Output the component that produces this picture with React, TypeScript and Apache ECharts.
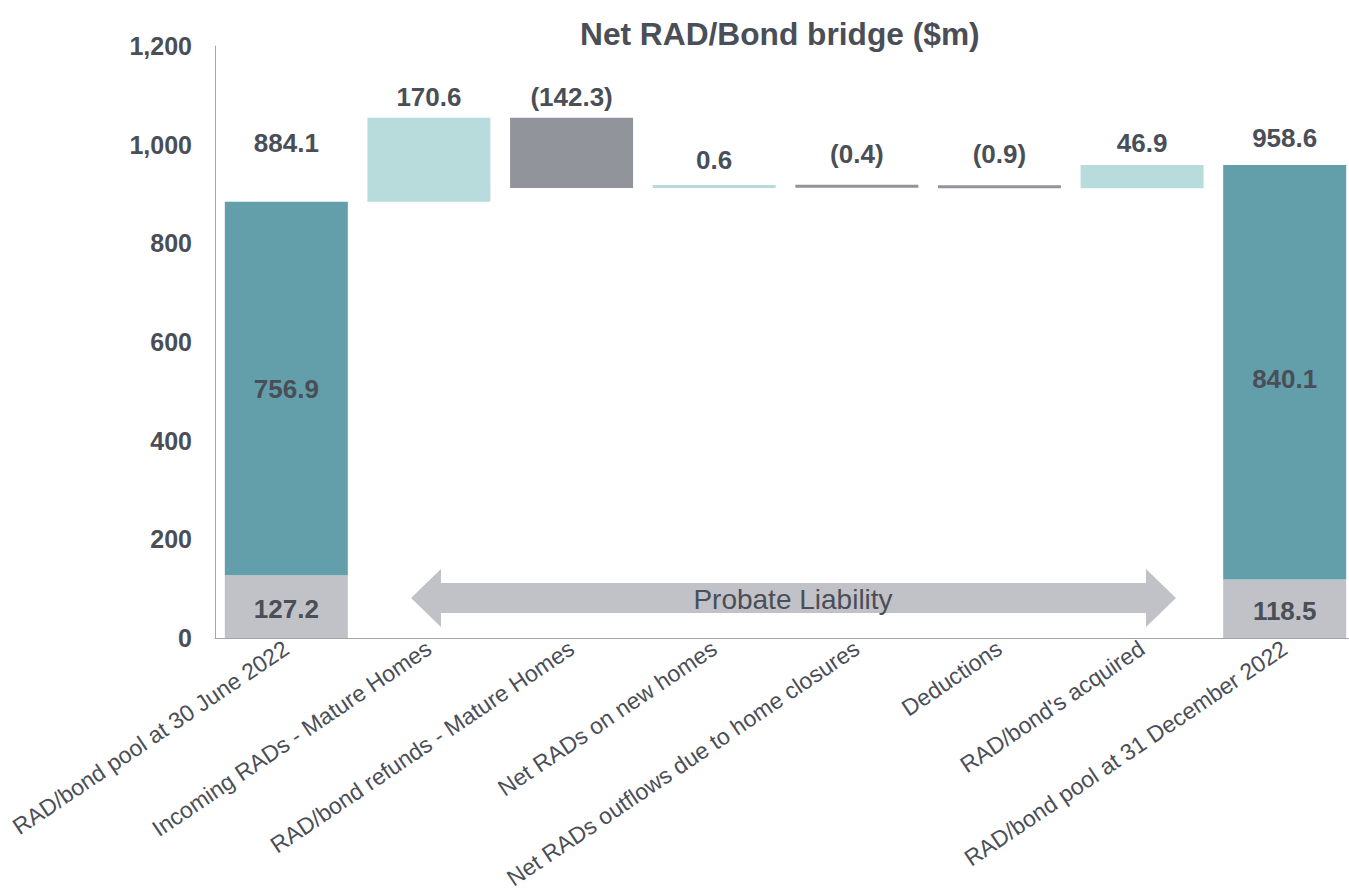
import React, { useEffect, useRef } from "react";
import * as echarts from "echarts";

const categories = [
  "RAD/bond pool at 30 June 2022",
  "Incoming RADs - Mature Homes",
  "RAD/bond refunds - Mature Homes",
  "Net RADs on new homes",
  "Net RADs outflows due to home closures",
  "Deductions",
  "RAD/bond's acquired",
  "RAD/bond pool at 31 December 2022",
];
const openingProbate = 127.2;
const openingPool = 756.9;
const closingProbate = 118.5;
const closingPool = 840.1;
const movements = [170.6, -142.3, 0.6, -0.4, -0.9, 46.9];
const yTicks = [0, 200, 400, 600, 800, 1000, 1200];

const TEXT = "#4A4E57";
const TEAL = "#629FAB";
const LIGHT_GRAY = "#C1C2C7";
const LIGHT_TEAL = "#B8DBDC";
const DARK_GRAY = "#92949B";
const FONT = "'Liberation Sans', Arial, sans-serif";

export default function App() {
  const ref = useRef<HTMLDivElement>(null);
  useEffect(() => {
    if (!ref.current) return;
    const chart = echarts.init(ref.current, undefined, { renderer: "svg" });
    const n = categories.length;
    const openingTotal = +(openingProbate + openingPool).toFixed(1);
    const closingTotal = +(closingProbate + closingPool).toFixed(1);

    const probate: any[] = Array(n).fill("-");
    const pool: any[] = Array(n).fill("-");
    const base: any[] = Array(n).fill("-");
    const inc: any[] = Array(n).fill("-");
    const dec: any[] = Array(n).fill("-");
    const total: any[] = Array(n).fill("-");
    probate[0] = openingProbate;
    pool[0] = openingPool;
    probate[n - 1] = closingProbate;
    pool[n - 1] = { value: closingPool, label: { offset: [0, 7] } };
    const topDist = [46, 8, 8, 12, 18, 18, 9, 14];
    total[0] = { value: 0, label: { distance: topDist[0] } };
    total[n - 1] = { value: 0, label: { distance: topDist[n - 1] } };
    const totals = [openingTotal, closingTotal];
    let running = openingTotal;
    movements.forEach((m, i) => {
      const idx = i + 1;
      const next = +(running + m).toFixed(1);
      if (m >= 0) {
        base[idx] = running;
        inc[idx] = { value: m, label: { distance: topDist[idx] } };
      } else {
        base[idx] = next;
        dec[idx] = { value: -m, label: { distance: topDist[idx] } };
      }
      running = next;
    });

    const labelText = {
      color: TEXT,
      fontFamily: FONT,
      fontWeight: "bold" as const,
      fontSize: 26,
    };

    chart.setOption({
      animation: false,
      title: {
        text: "Net RAD/Bond bridge ($m)",
        left: 575,
        top: 13,
        textStyle: { color: TEXT, fontFamily: FONT, fontWeight: "bold", fontSize: 31.7 },
      },
      grid: { left: 215, width: 1141, top: 46, bottom: 256, containLabel: false },
      xAxis: {
        type: "category",
        data: categories,
        axisLine: { lineStyle: { color: "#A6A6A6", width: 1 } },
        axisTick: { show: false },
        axisLabel: {
          interval: 0,
          rotate: 34,
          margin: 8,
          color: TEXT,
          fontFamily: FONT,
          fontSize: 23,
        },
      },
      yAxis: {
        type: "value",
        min: 0,
        max: yTicks[yTicks.length - 1],
        interval: 200,
        axisLine: { show: true, lineStyle: { color: "#A6A6A6", width: 1 } },
        axisTick: { show: false },
        splitLine: { show: false },
        axisLabel: {
          margin: 23,
          color: TEXT,
          fontFamily: FONT,
          fontWeight: "bold",
          fontSize: 25,
          formatter: (v: number) => v.toLocaleString("en-US"),
        },
      },
      series: [
        {
          name: "Probate",
          type: "bar",
          stack: "w",
          barWidth: 123,
          data: probate,
          itemStyle: { color: LIGHT_GRAY },
          label: { show: true, position: "inside", ...labelText, offset: [0, 2] },
          emphasis: { disabled: true },
        },
        {
          name: "Base",
          type: "bar",
          stack: "w",
          barWidth: 123,
          data: base,
          itemStyle: { color: "transparent" },
          emphasis: { disabled: true },
        },
        {
          name: "Pool",
          type: "bar",
          stack: "w",
          barWidth: 123,
          data: pool,
          itemStyle: { color: TEAL },
          label: { show: true, position: "inside", ...labelText },
          emphasis: { disabled: true },
        },
        {
          name: "Increase",
          type: "bar",
          stack: "w",
          barWidth: 123,
          barMinHeight: 3,
          data: inc,
          itemStyle: { color: LIGHT_TEAL },
          label: {
            show: true,
            position: "top",
            ...labelText,
            formatter: (p: any) => p.value.toFixed(1),
          },
          emphasis: { disabled: true },
        },
        {
          name: "Decrease",
          type: "bar",
          stack: "w",
          barWidth: 123,
          barMinHeight: 3,
          data: dec,
          itemStyle: { color: DARK_GRAY },
          label: {
            show: true,
            position: "top",
            ...labelText,
            formatter: (p: any) => "(" + p.value.toFixed(1) + ")",
          },
          emphasis: { disabled: true },
        },
        {
          name: "Total",
          type: "bar",
          stack: "w",
          barWidth: 123,
          data: total,
          itemStyle: { color: "transparent" },
          label: {
            show: true,
            position: "top",
            ...labelText,
            formatter: (p: any) => (p.dataIndex === 0 ? totals[0] : totals[1]).toFixed(1),
          },
          emphasis: { disabled: true },
        },
      ],
      graphic: [
        {
          type: "polygon",
          shape: {
            points: [
              [411, 598],
              [441, 569],
              [441, 583],
              [1146, 583],
              [1146, 569],
              [1176, 598],
              [1146, 627],
              [1146, 613],
              [441, 613],
              [441, 627],
            ],
          },
          style: { fill: LIGHT_GRAY },
          silent: true,
        },
        {
          type: "text",
          x: 793,
          y: 599,
          style: {
            text: "Probate Liability",
            fill: TEXT,
            font: `28px ${FONT}`,
            align: "center",
            verticalAlign: "middle",
          },
          silent: true,
        },
      ],
    });
    return () => chart.dispose();
  }, []);
  return (
    <div
      style={{
        position: "fixed",
        left: 0,
        top: 0,
        width: 1349,
        height: 894,
        overflow: "hidden",
        background: "#fff",
      }}
    >
      <div ref={ref} style={{ width: 1362, height: 894 }} />
    </div>
  );
}
